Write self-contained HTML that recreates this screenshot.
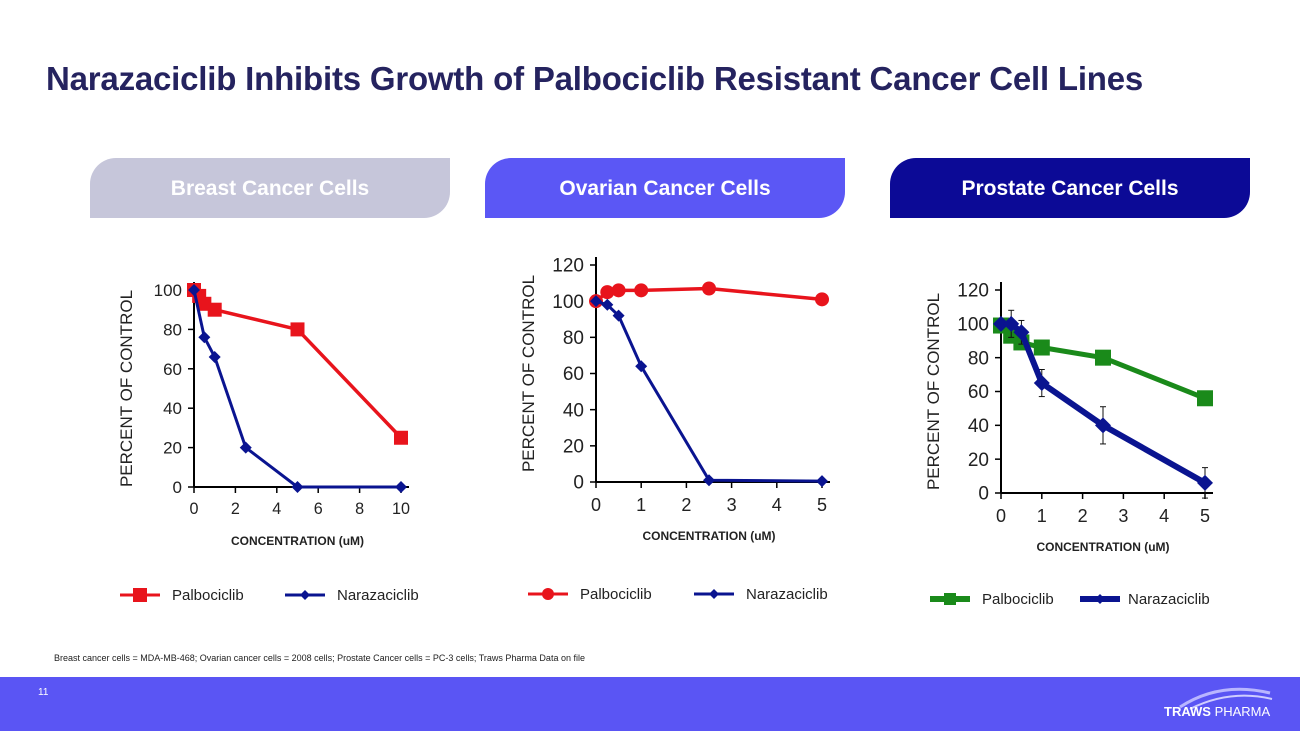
<!DOCTYPE html>
<html><head><meta charset="utf-8">
<style>
body{margin:0;width:1300px;height:731px;position:relative;background:#fff;font-family:"Liberation Sans",sans-serif;overflow:hidden}
.title{position:absolute;left:46px;top:60px;font-size:33px;font-weight:bold;color:#25235f;letter-spacing:-0.2px}
.hdr{position:absolute;top:158px;width:360px;height:60px;border-radius:26px 0 26px 0;color:#fff;font-weight:bold;font-size:21px;text-align:center;line-height:62px}
.foot{position:absolute;left:0;top:677px;width:1300px;height:54px;background:#5a55f4}
.note{position:absolute;left:54px;top:653px;font-size:9px;color:#222}
svg{position:absolute;left:0;top:0}
</style></head><body>
<div class="title">Narazaciclib Inhibits Growth of Palbociclib Resistant Cancer Cell Lines</div>
<div class="hdr" style="left:90px;background:#c6c6da">Breast Cancer Cells</div>
<div class="hdr" style="left:485px;background:#5b57f5">Ovarian Cancer Cells</div>
<div class="hdr" style="left:890px;background:#0c0a96">Prostate Cancer Cells</div>
<div class="note">Breast cancer cells = MDA-MB-468; Ovarian cancer cells = 2008 cells; Prostate Cancer cells = PC-3 cells; Traws Pharma Data on file</div>
<div class="foot">
<div style="position:absolute;left:38px;top:10px;color:#fff;font-size:10px">11</div>
<svg width="120" height="40" style="left:1160px;top:4px"><path d="M20 26 Q60 0 110 12" stroke="#b9b6ff" stroke-width="3" fill="none"/><path d="M30 28 Q70 8 112 18" stroke="#cfcdff" stroke-width="2" fill="none"/></svg>
<div style="position:absolute;left:1164px;top:27px;color:#fff;font-size:13px"><b>TRAWS</b> PHARMA</div>
</div>
<svg id="c" width="1300" height="731"></svg>
<script>
const breastX=[0,0.25,0.5,1,5,10];
const breastPalbo=[100,97,93,90,80,25];
const breastNaraX=[0,0.5,1,2.5,5,10];
const breastNara=[100,76,66,20,0,0];
const ovX=[0,0.25,0.5,1,2.5,5];
const ovPalbo=[100,105,106,106,107,101];
const ovNara=[100,98,92,64,1,0.5];
const prX=[0,0.25,0.5,1,2.5,5];
const prPalbo=[99,93,89,86,80,56];
const prNara=[100,100,95,65,40,6];
const prNaraErr=[0,8,7,8,11,9];
const breastXTicks=[0,2,4,6,8,10];
const breastYTicks=[0,20,40,60,80,100];
const ovXTicks=[0,1,2,3,4,5];
const ovYTicks=[0,20,40,60,80,100,120];

const svg=document.getElementById('c');
const NS='http://www.w3.org/2000/svg';
function mk(t,a,parent){const e=document.createElementNS(NS,t);for(const k in a)e.setAttribute(k,a[k]);(parent||svg).appendChild(e);return e;}
function txt(x,y,s,size,anchor,extra){const e=mk('text',Object.assign({x:x,y:y,'font-size':size,'text-anchor':anchor||'middle',fill:'#222','font-family':'Liberation Sans, sans-serif'},extra||{}));e.textContent=s;return e;}

function chart(cfg){
  const g=mk('g',{});
  
  
  const sx=v=>cfg.x0+(v-cfg.xmin)/(cfg.xmax-cfg.xmin)*(cfg.x1-cfg.x0);
  const sy=v=>cfg.y0-(v)/(cfg.ymax)*(cfg.y0-cfg.y1);
  mk('line',{x1:cfg.x0,y1:cfg.y0,x2:cfg.x0,y2:cfg.y1-8,stroke:'#000','stroke-width':2},g);
  mk('line',{x1:cfg.x0,y1:cfg.y0,x2:cfg.x1+8,y2:cfg.y0,stroke:'#000','stroke-width':2},g);
  cfg.yt.forEach(v=>{mk('line',{x1:cfg.x0-6,x2:cfg.x0,y1:sy(v),y2:sy(v),stroke:'#000','stroke-width':1.5},g);
    const t=txt(cfg.x0-12,sy(v)+cfg.fs*0.35,String(v),cfg.fs,'end');g.appendChild(t);});
  cfg.xt.forEach(v=>{mk('line',{x1:sx(v),x2:sx(v),y1:cfg.y0,y2:cfg.y0+6,stroke:'#000','stroke-width':1.5},g);
    const t=txt(sx(v),cfg.y0+cfg.fs+10,String(v),cfg.fs*0.95);g.appendChild(t);});
  const yl=txt(0,0,'PERCENT OF CONTROL',17,'middle',{transform:`translate(${cfg.x0-62},${(cfg.y0+cfg.y1)/2}) rotate(-90)`});g.appendChild(yl);
  const xl=txt((cfg.x0+cfg.x1)/2,cfg.y0+58,'CONCENTRATION (uM)',12,'middle',{'font-weight':'bold'});g.appendChild(xl);
  cfg.series.forEach(s=>{
    const pts=s.x.map((xv,i)=>[sx(xv),sy(s.y[i])]);
    if(s.err) s.err.forEach((e,i)=>{if(e){const [px]=pts[i];mk('line',{x1:px,x2:px,y1:sy(s.y[i]+e),y2:sy(s.y[i]-e),stroke:'#111','stroke-width':1},g);
      mk('line',{x1:px-3,x2:px+3,y1:sy(s.y[i]+e),y2:sy(s.y[i]+e),stroke:'#111'},g);mk('line',{x1:px-3,x2:px+3,y1:sy(s.y[i]-e),y2:sy(s.y[i]-e),stroke:'#111'},g);}});
    const pl=mk('polyline',{points:pts.map(p=>p.join(',')).join(' '),fill:'none',stroke:s.color,'stroke-width':s.w},g);
    
    
    pts.forEach(([px,py])=>{let m;
      if(s.m==='sq')m=mk('rect',{x:px-s.r,y:py-s.r,width:2*s.r,height:2*s.r,fill:s.color},g);
      else if(s.m==='ci')m=mk('circle',{cx:px,cy:py,r:s.r,fill:s.color},g);
      else m=mk('polygon',{points:`${px},${py-s.r} ${px+s.r},${py} ${px},${py+s.r} ${px-s.r},${py}`,fill:s.color},g);
      
      });
  });
  cfg.series.forEach((s,i)=>{const lx=cfg.lx+i*cfg.lgap, ly=cfg.ly;
    const lg=mk('g',{},g);
    
    
    mk('line',{x1:lx,x2:lx+40,y1:ly,y2:ly,stroke:s.color,'stroke-width':s.lw||3},lg);
    const r=s.lr;
    if(s.m==='sq')mk('rect',{x:lx+20-r,y:ly-r,width:2*r,height:2*r,fill:s.color},lg);
    else if(s.m==='ci')mk('circle',{cx:lx+20,cy:ly,r:r,fill:s.color},lg);
    else mk('polygon',{points:`${lx+20},${ly-r} ${lx+20+r},${ly} ${lx+20},${ly+r} ${lx+20-r},${ly}`,fill:s.color},lg);
    lg.appendChild(txt(lx+(s.tx||52),ly+5,s.label,15,'start'));
  });
}
chart({name:'breast-chart',x0:194,x1:401,y0:487,y1:290,xmin:0,xmax:10,ymax:100,xt:breastXTicks,yt:breastYTicks,fs:17,lx:120,ly:595,lgap:165,
 series:[{name:'palbociclib',label:'Palbociclib',x:breastX,y:breastPalbo,color:'#e8141c',w:3.5,m:'sq',r:7,lr:7},
         {name:'narazaciclib',label:'Narazaciclib',x:breastNaraX,y:breastNara,color:'#0a1490',w:3,m:'di',r:6,lr:5,lw:3}]});
chart({name:'ovarian-chart',x0:596,x1:822,y0:482,y1:265,xmin:0,xmax:5,ymax:120,xt:ovXTicks,yt:ovYTicks,fs:19,lx:528,ly:594,lgap:166,
 series:[{name:'palbociclib',label:'Palbociclib',x:ovX,y:ovPalbo,color:'#e8141c',w:3.5,m:'ci',r:7,lr:6},
         {name:'narazaciclib',label:'Narazaciclib',x:ovX,y:ovNara,color:'#0a1490',w:3,m:'di',r:6,lr:5}]});
chart({name:'prostate-chart',x0:1001,x1:1205,y0:493,y1:290,xmin:0,xmax:5,ymax:120,xt:ovXTicks,yt:ovYTicks,fs:19,lx:930,ly:599,lgap:150,
 series:[{name:'palbociclib',label:'Palbociclib',x:prX,y:prPalbo,color:'#1a8a1a',w:5,m:'sq',r:8,lr:6,lw:6},
         {name:'narazaciclib',label:'Narazaciclib',x:prX,y:prNara,color:'#0a1490',w:6,m:'di',r:8,lr:5,lw:6,err:prNaraErr,tx:48}]});
</script>
</body></html>
